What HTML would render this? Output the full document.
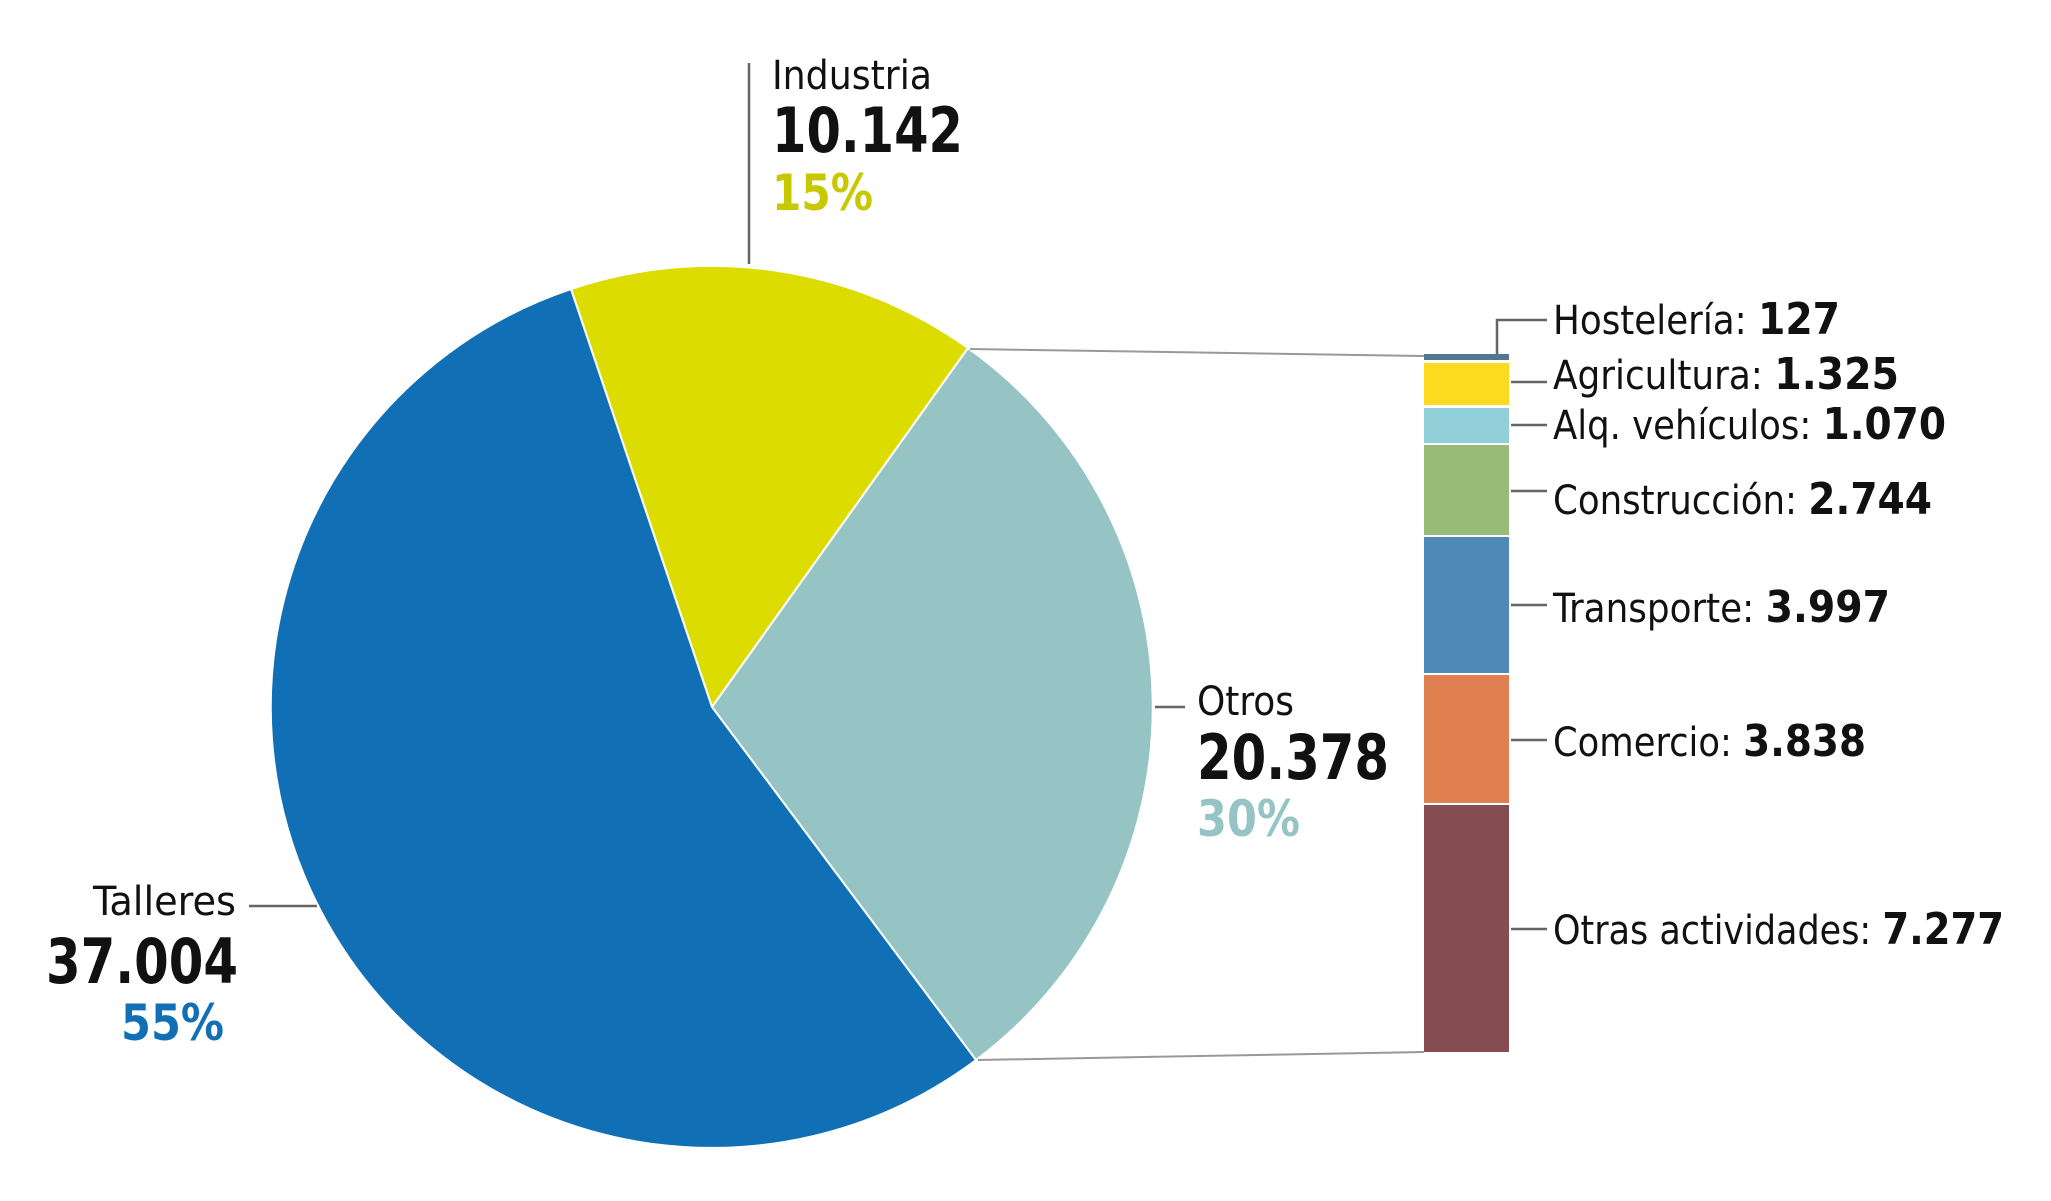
<!DOCTYPE html>
<html><head><meta charset="utf-8"><style>
html,body{margin:0;padding:0;background:#fff}
svg{display:block}
text{font-family:"Liberation Sans Narrow","DejaVu Sans Condensed","Liberation Sans",sans-serif;fill:#111}
.b{font-weight:bold}
</style></head><body>
<svg width="2051" height="1201" viewBox="0 0 2051 1201" xmlns="http://www.w3.org/2000/svg">
<rect width="2051" height="1201" fill="#fff"/>
<g transform="translate(-5,-3)">
<path d="M717,710 L576,292 A441,441 0 0 1 973,351 Z" fill="#dcdc00" stroke="#fff" stroke-width="2"/>
<path d="M717,710 L973,351 A441,441 0 0 1 981,1063 Z" fill="#96c4c5" stroke="#fff" stroke-width="2"/>
<path d="M717,710 L981,1063 A441,441 0 1 1 576,292 Z" fill="#1170b5" stroke="#fff" stroke-width="2"/>
<line x1="975" y1="352" x2="1429" y2="359" stroke="#999" stroke-width="2"/>
<line x1="983" y1="1063" x2="1429" y2="1055" stroke="#999" stroke-width="2"/>
<rect x="1429" y="357" width="85" height="6" fill="#52778f"/>
<rect x="1429" y="366" width="85" height="42" fill="#fcdb1e"/>
<rect x="1429" y="411" width="85" height="35" fill="#92d0d9"/>
<rect x="1429" y="448" width="85" height="90" fill="#98bb78"/>
<rect x="1429" y="540" width="85" height="136" fill="#4e8ab8"/>
<rect x="1429" y="678" width="85" height="128" fill="#e07f50"/>
<rect x="1429" y="808" width="85" height="247" fill="#854c52"/>
<g stroke="#666" stroke-width="2.5" fill="none">
<line x1="754" y1="66" x2="754" y2="267"/>
<line x1="1160" y1="710" x2="1190" y2="710"/>
<line x1="254" y1="909" x2="322" y2="909"/>
<polyline points="1502,357 1502,323 1552,323"/>
<line x1="1516" y1="385" x2="1552" y2="385"/>
<line x1="1516" y1="428" x2="1552" y2="428"/>
<line x1="1516" y1="494" x2="1552" y2="494"/>
<line x1="1516" y1="608" x2="1552" y2="608"/>
<line x1="1516" y1="743" x2="1552" y2="743"/>
<line x1="1516" y1="932" x2="1552" y2="932"/>
</g>
<text x="777" y="92" font-size="40" textLength="160" lengthAdjust="spacingAndGlyphs">Industria</text>
<text x="777" y="155" font-size="62" class="b" textLength="191" lengthAdjust="spacingAndGlyphs">10.142</text>
<text x="777" y="213" font-size="50" class="b" style="fill:#c8c800" textLength="101" lengthAdjust="spacingAndGlyphs">15%</text>
<text x="1202" y="718" font-size="40" textLength="97" lengthAdjust="spacingAndGlyphs">Otros</text>
<text x="1202" y="782" font-size="62" class="b" textLength="192" lengthAdjust="spacingAndGlyphs">20.378</text>
<text x="1202" y="839" font-size="50" class="b" style="fill:#96c4c5" textLength="103" lengthAdjust="spacingAndGlyphs">30%</text>
<text x="98" y="918" font-size="40" textLength="143" lengthAdjust="spacingAndGlyphs">Talleres</text>
<text x="51" y="986" font-size="62" class="b" textLength="192" lengthAdjust="spacingAndGlyphs">37.004</text>
<text x="126" y="1043" font-size="50" class="b" style="fill:#1170b5" textLength="103" lengthAdjust="spacingAndGlyphs">55%</text>
<g transform="translate(-3,0)">
<text x="1561" y="337" font-size="40" textLength="287" lengthAdjust="spacingAndGlyphs">Hostelería: <tspan class="b" font-size="44">127</tspan></text>
<text x="1561" y="392" font-size="40" textLength="346" lengthAdjust="spacingAndGlyphs">Agricultura: <tspan class="b" font-size="44">1.325</tspan></text>
<text x="1561" y="442" font-size="40" textLength="393" lengthAdjust="spacingAndGlyphs">Alq. vehículos: <tspan class="b" font-size="44">1.070</tspan></text>
<text x="1561" y="517" font-size="40" textLength="379" lengthAdjust="spacingAndGlyphs">Construcción: <tspan class="b" font-size="44">2.744</tspan></text>
<text x="1561" y="625" font-size="40" textLength="337" lengthAdjust="spacingAndGlyphs">Transporte: <tspan class="b" font-size="44">3.997</tspan></text>
<text x="1561" y="759" font-size="40" textLength="313" lengthAdjust="spacingAndGlyphs">Comercio: <tspan class="b" font-size="44">3.838</tspan></text>
<text x="1561" y="947" font-size="40" textLength="451" lengthAdjust="spacingAndGlyphs">Otras actividades: <tspan class="b" font-size="44">7.277</tspan></text>
</g>
</g>
</svg>
</body></html>
